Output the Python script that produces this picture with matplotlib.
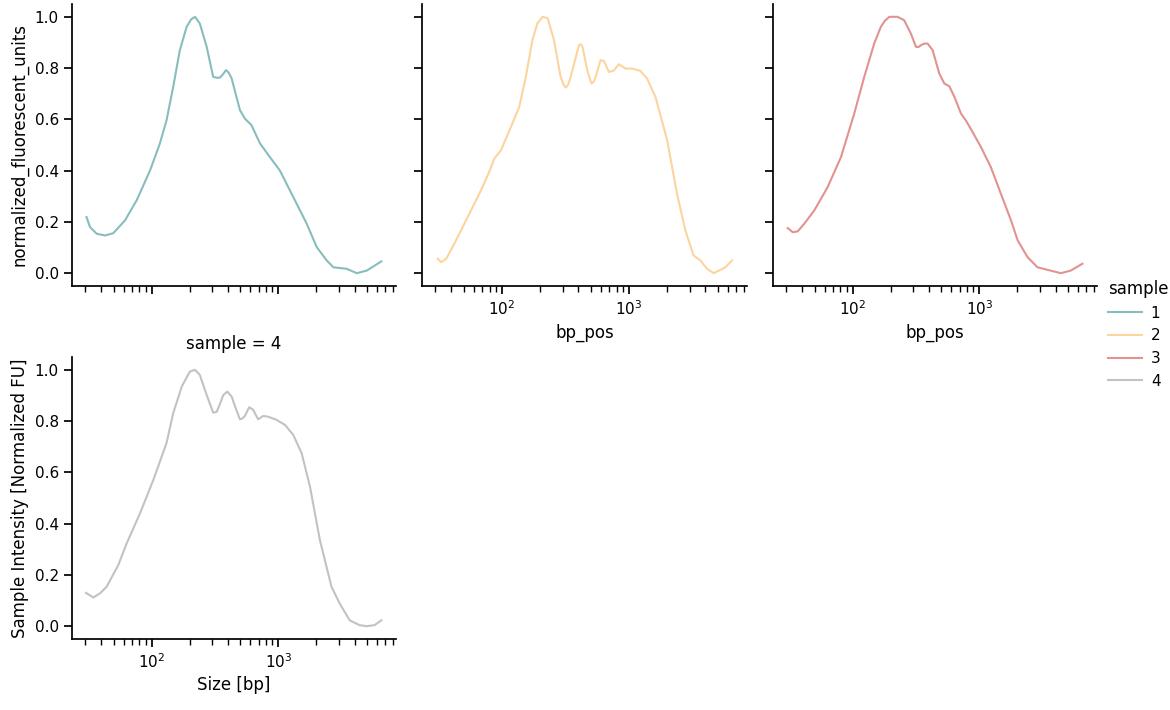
import numpy as np
import matplotlib.pyplot as plt
from matplotlib.lines import Line2D

# bp positions / normalized intensity, one pair of lists per sample
bp_1 = [30.6, 32.6, 36.8, 42.8, 49.8, 61.6, 76.1, 97, 116, 131, 148, 167, 189, 205, 220, 240, 272,
        306, 330, 346, 365, 386, 405, 428, 498, 545, 615, 717, 858, 1028, 1313, 1676, 2010, 2410, 2720,
        3470, 4170, 4990, 6510]
fu_1 = [0.219, 0.18, 0.154, 0.147, 0.156, 0.206, 0.284, 0.40, 0.505, 0.596, 0.727, 0.87, 0.961,
        0.99, 1.0, 0.974, 0.883, 0.766, 0.762, 0.763, 0.775, 0.792, 0.783, 0.76, 0.636, 0.603, 0.577,
        0.506, 0.453, 0.401, 0.297, 0.193, 0.102, 0.05, 0.023, 0.017, 0.0, 0.01, 0.046]

bp_2 = [31.3, 33.2, 36.4, 42.2, 53.8, 68.4, 79.5, 87.1, 98.2, 117.7, 136.8, 154.3, 174, 190,
        209, 229, 257, 290, 306, 318, 332, 348, 404, 418, 430, 470, 506, 525, 547, 598, 635, 695,
        760, 832, 940, 1060, 1230, 1390, 1620, 2000, 2390, 2780, 3230, 3650, 4120, 4650, 5100,
        5740, 6490]
fu_2 = [0.056, 0.043, 0.056, 0.115, 0.219, 0.323, 0.395, 0.447, 0.479, 0.570, 0.648, 0.766,
        0.909, 0.974, 1.0, 0.995, 0.909, 0.766, 0.735, 0.724, 0.735, 0.766, 0.889, 0.893, 0.885,
        0.792, 0.74, 0.745, 0.766, 0.831, 0.828, 0.785, 0.79, 0.815, 0.798, 0.798, 0.789, 0.759,
        0.687, 0.518, 0.31, 0.167, 0.069, 0.05, 0.017, 0.0, 0.01, 0.023, 0.05]

bp_3 = [30.7, 33.6, 36.8, 41.5, 49.8, 63.5, 80.9, 103, 123.5, 148, 167, 180, 195, 226, 255, 288,
        316, 330, 346, 365, 390, 428, 483, 529, 580, 636, 716, 783, 884, 1030, 1233, 1480, 1780,
        2010, 2400, 2880, 3660, 4400, 5270, 6530]
fu_3 = [0.176, 0.16, 0.163, 0.193, 0.245, 0.336, 0.453, 0.623, 0.766, 0.896, 0.961, 0.985, 1.0,
        1.0, 0.987, 0.935, 0.883, 0.882, 0.889, 0.895, 0.896, 0.87, 0.779, 0.74, 0.729, 0.688,
        0.623, 0.596, 0.551, 0.492, 0.414, 0.31, 0.206, 0.128, 0.063, 0.023, 0.01, 0.0, 0.01,
        0.037]

bp_4 = [30.3, 34.6, 39.1, 44.1, 54.5, 63.5, 80.9, 103, 131, 148, 173, 200, 220, 240, 272, 306,
        326, 345, 368, 396, 428, 465, 498, 520, 545, 588, 633, 693, 760, 832, 967, 1130, 1313,
        1528, 1780, 2130, 2630, 3050, 3660, 4380, 4990, 5760, 6510]
fu_4 = [0.13, 0.112, 0.128, 0.154, 0.238, 0.323, 0.44, 0.57, 0.714, 0.831, 0.935, 0.993, 1.0,
        0.98, 0.902, 0.833, 0.836, 0.865, 0.902, 0.915, 0.896, 0.845, 0.807, 0.81, 0.82, 0.854,
        0.844, 0.807, 0.82, 0.817, 0.805, 0.785, 0.746, 0.675, 0.544, 0.336, 0.154, 0.089, 0.023,
        0.004, 0.0, 0.004, 0.023]

samples = ['1', '2', '3', '4']
colors = ['#88bdbd', '#fcd49e', '#e29290', '#c2c2c2']
series = [(bp_1, fu_1), (bp_2, fu_2), (bp_3, fu_3), (bp_4, fu_4)]

# seaborn "notebook"-like sizes
plt.rcParams['font.family'] = 'DejaVu Sans'
plt.rc('font', size=12)
plt.rc('axes', labelsize=12, titlesize=12, linewidth=1.25)
plt.rc('xtick', labelsize=11)
plt.rc('ytick', labelsize=11)
plt.rc('legend', fontsize=11, title_fontsize=12)

fig = plt.figure(figsize=(11.7, 7.1), dpi=100)
W, H = 1170, 710


def box(x0, y0, x1, y1):
    return [x0 / W, (H - y1) / H, (x1 - x0) / W, (y1 - y0) / H]


positions = [box(72, 4, 396, 286), box(422, 4, 747, 286),
             box(773, 4, 1097, 286), box(72, 357, 396, 639)]

axes = []
for pos, (bp, fu), c in zip(positions, series, colors):
    ax = fig.add_axes(pos)
    ax.plot(bp, fu, color=c, lw=1.5)
    ax.set_xscale('log')
    ax.set_xlim(23.5, 8500)
    ax.set_ylim(-0.05, 1.05)
    ax.set_yticks([0.0, 0.2, 0.4, 0.6, 0.8, 1.0])
    ax.spines['top'].set_visible(False)
    ax.spines['right'].set_visible(False)
    ax.tick_params(which='major', length=6, width=1.25)
    ax.tick_params(which='minor', length=4, width=1.0)
    axes.append(ax)

# shared y: only first column shows labels
for ax in axes[1:3]:
    ax.tick_params(labelleft=False)
# shared x: top-left panel sits above panel 4
axes[0].tick_params(which='both', labelbottom=False)

axes[0].set_ylabel('normalized_fluorescent_units')
axes[1].set_xlabel('bp_pos')
axes[2].set_xlabel('bp_pos')
axes[3].set_xlabel('Size [bp]')
axes[3].set_ylabel('Sample Intensity [Normalized FU]')
axes[3].set_title('sample = 4')

handles = [Line2D([], [], color=c, lw=1.5) for c in colors]
fig.legend(handles, samples, title='sample', loc='upper left',
           bbox_to_anchor=(1108 / W, 1 - 280 / H), frameon=False,
           borderaxespad=0, borderpad=0, alignment='left',
           handlelength=2.2, handletextpad=0.6, labelspacing=0.5)

plt.savefig('out.png', dpi=100)
